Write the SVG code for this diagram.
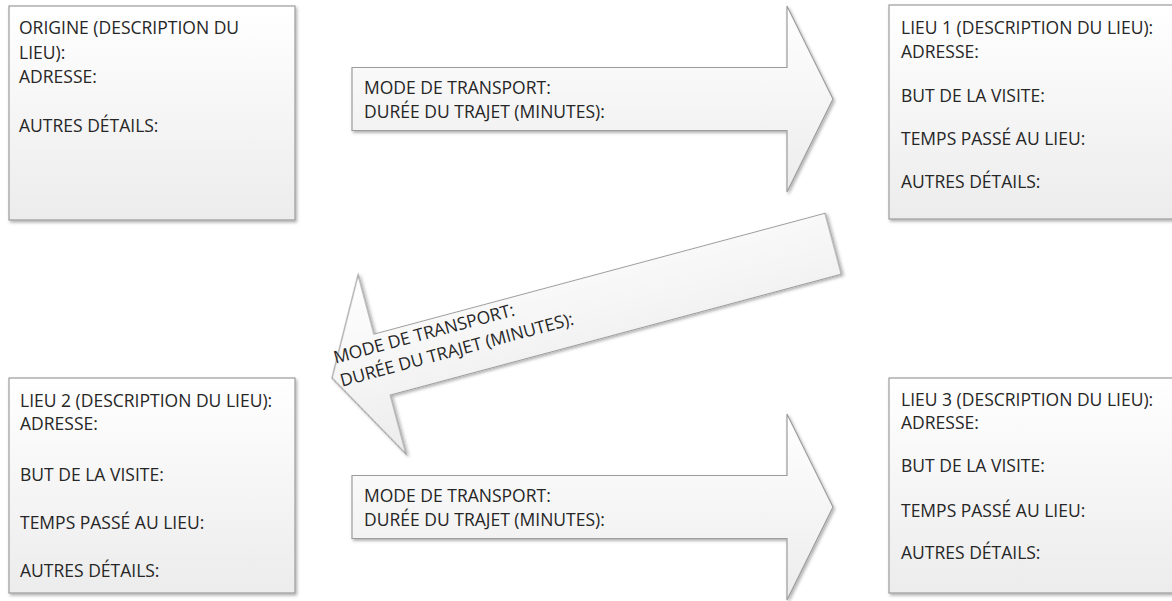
<svg xmlns="http://www.w3.org/2000/svg" width="1172" height="601" viewBox="0 0 1172 601">
<defs>
<linearGradient id="g" x1="0" y1="0" x2="0" y2="1">
<stop offset="0" stop-color="#ffffff"/>
<stop offset="1" stop-color="#ececec"/>
</linearGradient>
<filter id="sh" x="-5%" y="-5%" width="115%" height="115%">
<feDropShadow dx="1.5" dy="2" stdDeviation="1.5" flood-color="#000" flood-opacity="0.3"/>
</filter>
<style>
.shape{fill:url(#g);stroke:#9c9c9c;stroke-width:1.2;filter:url(#sh)}
text{font-family:"Open Sans","Noto Sans","Liberation Sans",sans-serif;font-size:17.5px;fill:#262626}
</style>
</defs>
<rect width="1172" height="601" fill="#ffffff"/>
<g id="connectors">
<g id="arrow1">
<polygon class="shape" points="352,67.5 787,67.5 787,6 833,99 787,192 787,130.5 352,130.5"/>
<text x="364" y="94">MODE DE TRANSPORT:</text>
<text x="364" y="118">DURÉE DU TRAJET (MINUTES):</text>
</g>
<g id="arrow2" transform="translate(332,378) rotate(-15)">
<polygon class="shape" points="0,0 52,-93 52,-31.5 519,-31.5 519,31.5 52,31.5 52,93"/>
<text x="7" y="-13">MODE DE TRANSPORT:</text>
<text x="7.5" y="11">DURÉE DU TRAJET (MINUTES):</text>
</g>
<g id="arrow3">
<polygon class="shape" points="352,475.5 787,475.5 787,414 833,507 787,600 787,538.5 352,538.5"/>
<text x="364" y="502">MODE DE TRANSPORT:</text>
<text x="364" y="526">DURÉE DU TRAJET (MINUTES):</text>
</g>
</g>
<g id="origine">
<rect class="shape" x="9" y="6" width="286" height="214"/>
<text x="19" y="34">ORIGINE (DESCRIPTION DU</text>
<text x="19" y="59">LIEU):</text>
<text x="19" y="83">ADRESSE:</text>
<text x="19" y="132">AUTRES DÉTAILS:</text>
</g>
<g id="lieu1">
<rect class="shape" x="889" y="5" width="300" height="214"/>
<text x="901" y="34">LIEU 1 (DESCRIPTION DU LIEU):</text>
<text x="901" y="58">ADRESSE:</text>
<text x="901" y="102">BUT DE LA VISITE:</text>
<text x="901" y="145">TEMPS PASSÉ AU LIEU:</text>
<text x="901" y="188">AUTRES DÉTAILS:</text>
</g>
<g id="lieu2">
<rect class="shape" x="9" y="378" width="286" height="215"/>
<text x="20" y="407">LIEU 2 (DESCRIPTION DU LIEU):</text>
<text x="20" y="430">ADRESSE:</text>
<text x="20" y="481">BUT DE LA VISITE:</text>
<text x="20" y="529">TEMPS PASSÉ AU LIEU:</text>
<text x="20" y="577">AUTRES DÉTAILS:</text>
</g>
<g id="lieu3">
<rect class="shape" x="889" y="378" width="300" height="215"/>
<text x="901" y="406">LIEU 3 (DESCRIPTION DU LIEU):</text>
<text x="901" y="429">ADRESSE:</text>
<text x="901" y="472">BUT DE LA VISITE:</text>
<text x="901" y="517">TEMPS PASSÉ AU LIEU:</text>
<text x="901" y="559">AUTRES DÉTAILS:</text>
</g>
</svg>
